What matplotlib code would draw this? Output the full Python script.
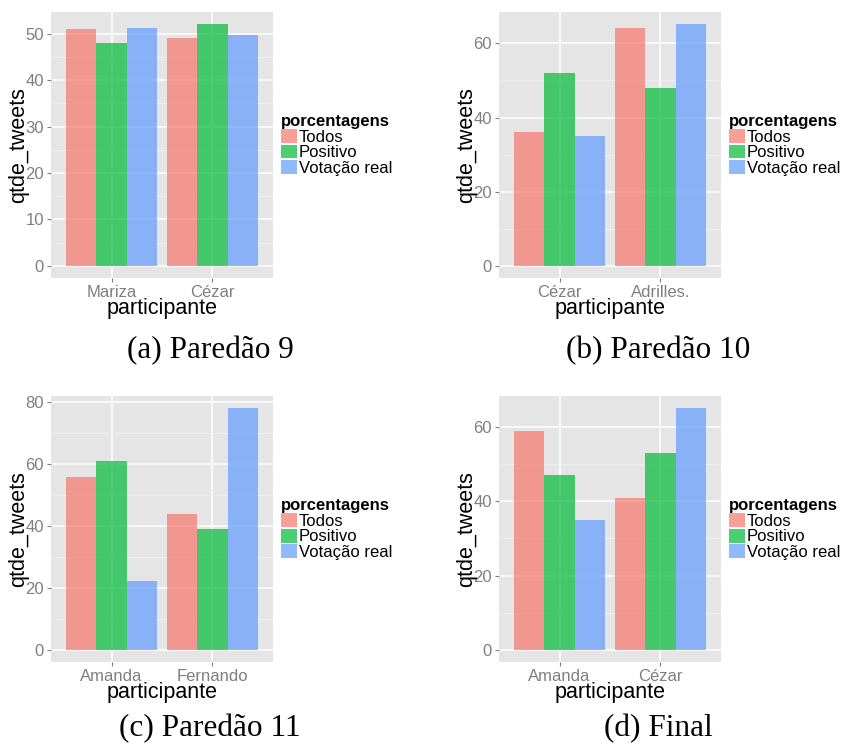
import numpy as np
import matplotlib
matplotlib.use('Agg')
import matplotlib.pyplot as plt

# Dados de cada paredão (qtde_tweets em porcentagem)
series = ['Todos', 'Positivo', 'Votação real']
cores = ['#F8766D', '#00BA38', '#619CFF']

part_a = ['Mariza', 'Cézar']
todos_a = [51.1, 49.1]
positivo_a = [48.1, 52.1]
votacao_a = [51.3, 49.8]

part_b = ['Cézar', 'Adrilles.']
todos_b = [36.2, 64.1]
positivo_b = [52.0, 48.0]
votacao_b = [35.1, 65.2]

part_c = ['Amanda', 'Fernando']
todos_c = [55.9, 44.0]
positivo_c = [61.0, 39.1]
votacao_c = [22.1, 78.1]

part_d = ['Amanda', 'Cézar']
todos_d = [58.9, 41.0]
positivo_d = [47.1, 53.0]
votacao_d = [35.1, 65.1]

legendas = ['(a) Paredão 9', '(b) Paredão 10', '(c) Paredão 11', '(d) Final']
ticks_y = [np.arange(0, 51, 10), np.arange(0, 61, 20), np.arange(0, 81, 20), np.arange(0, 61, 20)]

plt.rcParams['font.family'] = ['Liberation Sans', 'DejaVu Sans']

W, H = 846, 751
fig = plt.figure(figsize=(W / 100, H / 100), dpi=100)

# posicao dos paineis em pixels (esquerda, topo)
paineis = [(51, 12), (499, 12), (51, 396), (499, 396)]
pw, ph = 222, 266


def grafico_barras(ax, participantes, valores, yt):
    x = np.arange(1, len(participantes) + 1)
    larg = 0.3
    for i, (nome, vals) in enumerate(zip(series, valores)):
        ax.bar(x + (i - 1) * larg, vals, width=larg, color=cores[i], alpha=0.7,
               linewidth=0, label=nome, zorder=2)
    top = max(max(v) for v in valores)
    exp = top * 0.05
    ax.set_ylim(-exp, top + exp)
    ax.set_xlim(0.4, len(participantes) + 0.6)
    ax.set_facecolor('#E5E5E5')
    for s in ax.spines.values():
        s.set_visible(False)
    ax.set_xticks(x)
    ax.set_xticklabels(participantes)
    ax.set_yticks(yt)
    passo = yt[1] - yt[0]
    menores = np.arange(yt[0] + passo / 2, top + exp, passo)
    ax.set_yticks(menores, minor=True)
    ax.tick_params(axis='both', which='major', colors='#7F7F7F', labelsize=12,
                   length=3, width=0.8, pad=2)
    ax.tick_params(axis='y', which='minor', length=0)
    ax.grid(True, which='major', color='white', linewidth=1.1, zorder=0)
    ax.grid(True, which='minor', axis='y', color='#F2F2F2', linewidth=0.6, zorder=0)
    ax.set_axisbelow(True)
    ax.set_xlabel('participante', fontsize=15.5, color='black', va='center')
    ax.set_ylabel('qtde_tweets', fontsize=15.5, color='black', va='center')
    ax.xaxis.set_label_coords(0.5, -0.113)
    ax.yaxis.set_label_coords(-0.144, 0.5)
    ax.legend(loc='center left', bbox_to_anchor=(1.035, 0.5), frameon=False,
              title='porcentagens', fontsize=12, borderpad=0,
              handlelength=0.95, handleheight=0.9, handletextpad=0.15,
              labelspacing=0.0, borderaxespad=0, alignment='left',
              title_fontproperties={'weight': 'bold', 'size': 12})


dados = [
    (part_a, [todos_a, positivo_a, votacao_a]),
    (part_b, [todos_b, positivo_b, votacao_b]),
    (part_c, [todos_c, positivo_c, votacao_c]),
    (part_d, [todos_d, positivo_d, votacao_d]),
]

centros_legenda = [(210, 351), (658, 351), (210, 729), (658, 729)]

for k in range(4):
    px, py = paineis[k]
    ax = fig.add_axes([px / W, 1 - (py + ph) / H, pw / W, ph / H])
    grafico_barras(ax, dados[k][0], dados[k][1], ticks_y[k])
    cx, cy = centros_legenda[k]
    fig.text(cx / W, 1 - cy / H, legendas[k], ha='center', va='center',
             fontsize=22.5, family=['Liberation Serif', 'DejaVu Serif'])

fig.savefig('out.png', dpi=100)
